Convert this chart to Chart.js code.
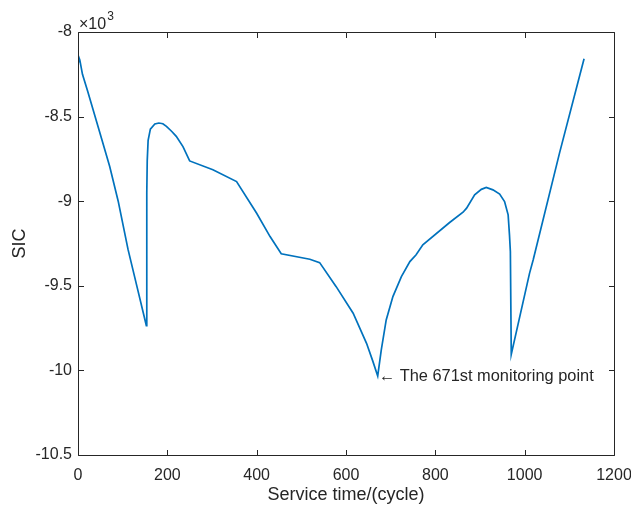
<!DOCTYPE html>
<html>
<head>
<meta charset="utf-8">
<script src="https://cdn.jsdelivr.net/npm/chart.js@4.4.1/dist/chart.umd.min.js"></script>
<style>
  html, body { margin: 0; padding: 0; background: #ffffff; }
  #wrap { width: 631px; height: 508px; }
</style>
</head>
<body>
<div id="wrap"><canvas id="chart-sic" width="631" height="508"></canvas></div>
<script>
// SIC vs service time
const cycles = [
  0, 2, 4, 10, 22, 45, 71, 90, 112, 133, 153,
  154, 155, 157, 162, 172, 181, 190, 198, 210, 220, 235, 250,
  302, 355, 400, 430, 455, 519, 541, 578, 616, 646, 660, 671,
  679, 690, 705, 724, 743, 757, 772, 832, 862, 870, 888, 903, 914, 929, 944, 955, 963, 966, 968, 970,
  1011, 1019, 1078, 1133
];
const sic = [
  -8175, -8150, -8165, -8250, -8353, -8560, -8795, -9000, -9285, -9515, -9735,
  -8950, -8760, -8640, -8574, -8544, -8538, -8542, -8558, -8588, -8617, -8677, -8762,
  -8814, -8884, -9071, -9209, -9311, -9343, -9363, -9505, -9662, -9840, -9945, -10033,
  -9879, -9702, -9564, -9446, -9357, -9317, -9258, -9126, -9065, -9041, -8962, -8930, -8919, -8933, -8958, -9002, -9081, -9199, -9298, -9905,
  -9425, -9347, -8716, -8158
];
const xTicks = [0, 200, 400, 600, 800, 1000, 1200];
const yTicks = [-10500, -10000, -9500, -9000, -8500, -8000];
const annotCycle = 671;
const annotSic = -10033;
const annotText = '\u2190 The 671st monitoring point';

const INK = '#262626';
const FONT = '"Liberation Sans", Arial, Helvetica, sans-serif';

// caja, marcas hacia dentro, anotación y factor ×10^3
const axesBox = {
  id: 'axesBox',
  afterDraw(chart) {
    const { ctx, chartArea: a, scales } = chart;
    const L = a.left + 0.5, R = a.right + 0.5, T = a.top + 0.5, B = a.bottom + 0.5;
    const tl = 5.5;
    ctx.save();
    ctx.strokeStyle = INK;
    ctx.lineWidth = 1;
    ctx.beginPath();
    ctx.rect(L, T, R - L, B - T);
    xTicks.forEach(v => {
      const px = Math.round(scales.x.getPixelForValue(v)) + 0.5;
      ctx.moveTo(px, B); ctx.lineTo(px, B - tl);
      ctx.moveTo(px, T); ctx.lineTo(px, T + tl);
    });
    yTicks.forEach(v => {
      const py = Math.round(scales.y.getPixelForValue(v)) + 0.5;
      ctx.moveTo(L, py); ctx.lineTo(L + tl, py);
      ctx.moveTo(R, py); ctx.lineTo(R - tl, py);
    });
    ctx.stroke();

    ctx.fillStyle = INK;
    ctx.font = '16.4px ' + FONT;
    ctx.textAlign = 'left';
    ctx.textBaseline = 'middle';
    ctx.fillText(annotText,
      scales.x.getPixelForValue(annotCycle) + 1,
      scales.y.getPixelForValue(annotSic) + 1);

    ctx.font = '16px ' + FONT;
    ctx.textBaseline = 'alphabetic';
    ctx.fillText('\u00d710', a.left + 1, a.top - 3);
    const w = ctx.measureText('\u00d710').width;
    ctx.font = '12px ' + FONT;
    ctx.fillText('3', a.left + 1 + w + 1, a.top - 12);
    ctx.restore();
  }
};

new Chart(document.getElementById('chart-sic'), {
  type: 'line',
  data: {
    datasets: [{
      data: cycles.map((c, i) => ({ x: c, y: sic[i] })),
      borderColor: '#0072BD',
      borderWidth: 1.7,
      pointRadius: 0,
      tension: 0,
      fill: false,
    }]
  },
  options: {
    responsive: false,
    animation: false,
    layout: { padding: { top: 32, right: 17, left: 0, bottom: 0 } },
    plugins: { legend: { display: false }, tooltip: { enabled: false } },
    scales: {
      x: {
        type: 'linear',
        min: 0, max: 1200,
        afterBuildTicks: s => { s.ticks = xTicks.map(v => ({ value: v })); },
        afterFit: s => { s.height = 53; s.paddingLeft = 0; s.paddingRight = 0; },
        grid: { display: false, drawTicks: false },
        border: { display: false },
        ticks: { color: INK, font: { family: FONT, size: 16 }, padding: 11, maxRotation: 0, autoSkip: false,
                 callback: v => String(v) },
        title: { display: true, text: 'Service time/(cycle)', color: INK,
                 font: { family: FONT, size: 18 }, padding: { top: 0, bottom: 2 } }
      },
      y: {
        min: -10500, max: -8000,
        afterBuildTicks: s => { s.ticks = yTicks.map(v => ({ value: v })); },
        afterFit: s => { s.width = 78; s.paddingTop = 0; s.paddingBottom = 0; },
        grid: { display: false, drawTicks: false },
        border: { display: false },
        ticks: { color: INK, font: { family: FONT, size: 16 }, padding: 6, autoSkip: false,
                 callback: v => String(v / 1000) },
        title: { display: true, text: 'SIC', color: INK,
                 font: { family: FONT, size: 18 }, padding: { top: 9, bottom: 0 } }
      }
    }
  },
  plugins: [axesBox]
});
</script>
</body>
</html>
